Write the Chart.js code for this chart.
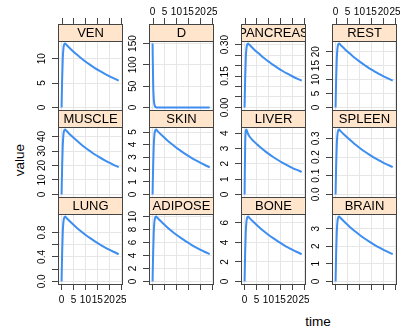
<!DOCTYPE html>
<html>
<head>
<meta charset="utf-8">
<script src="https://cdn.jsdelivr.net/npm/chart.js@4.4.1/dist/chart.umd.min.js"></script>
<style>
body{margin:0;background:#fff;width:409px;height:329px;overflow:hidden;position:relative;font-family:"Liberation Sans",Arial,sans-serif}
canvas{position:absolute}
.lab{position:absolute;width:60px;text-align:center;font-size:13.5px;line-height:16px;color:#000}
</style>
</head>
<body>
<div class="lab" style="left:-10px;top:152px;transform:rotate(-90deg)">value</div>
<div class="lab" style="left:288px;top:314px">time</div>
<script>
// time points (hours)
var time = [0, 0.25, 0.5, 0.75, 1, 1.5, 2, 4, 6, 8, 10, 12, 14, 16, 18, 20, 22, 24];

var VEN      = [0, 5.9, 10.0, 11.9, 12.8, 13.1, 12.85, 11.9, 11.0, 10.2, 9.43, 8.74, 8.08, 7.49, 6.93, 6.42, 5.95, 5.5];
var D        = [150, 55, 20, 7.5, 2.8, 0.4, 0.05, 0, 0, 0, 0, 0, 0, 0, 0, 0, 0, 0];
var PANCREAS = [0, 0.137, 0.232, 0.278, 0.297, 0.305, 0.299, 0.277, 0.257, 0.237, 0.220, 0.203, 0.188, 0.174, 0.161, 0.149, 0.138, 0.128];
var REST     = [0, 10.3, 17.4, 20.8, 22.3, 22.9, 22.5, 20.8, 19.3, 17.8, 16.5, 15.3, 14.1, 13.1, 12.1, 11.2, 10.4, 9.6];
var MUSCLE   = [0, 20, 34, 40.8, 43.7, 44.8, 44.0, 40.7, 37.7, 34.9, 32.3, 29.9, 27.6, 25.6, 23.7, 22.0, 20.3, 18.9];
var SKIN     = [0, 2.34, 3.95, 4.73, 5.07, 5.2, 5.1, 4.72, 4.37, 4.05, 3.74, 3.47, 3.21, 2.97, 2.75, 2.55, 2.36, 2.18];
var LIVER    = [0, 3.2, 4.15, 4.24, 4.15, 3.95, 3.8, 3.45, 3.17, 2.91, 2.67, 2.45, 2.25, 2.07, 1.9, 1.74, 1.6, 1.47];
var SPLEEN   = [0, 0.156, 0.264, 0.316, 0.338, 0.347, 0.340, 0.315, 0.292, 0.270, 0.250, 0.231, 0.214, 0.198, 0.184, 0.170, 0.158, 0.146];
var LUNG     = [0, 0.48, 0.81, 0.96, 1.03, 1.06, 1.04, 0.962, 0.891, 0.825, 0.763, 0.707, 0.654, 0.606, 0.561, 0.519, 0.481, 0.445];
var ADIPOSE  = [0, 4.5, 7.6, 9.1, 9.75, 10.0, 9.81, 9.08, 8.41, 7.78, 7.2, 6.67, 6.17, 5.72, 5.29, 4.9, 4.54, 4.2];
var BONE     = [0, 3.0, 5.05, 6.04, 6.47, 6.64, 6.51, 6.03, 5.58, 5.17, 4.78, 4.43, 4.10, 3.80, 3.51, 3.25, 3.01, 2.79];
var BRAIN    = [0, 1.66, 2.80, 3.36, 3.60, 3.69, 3.62, 3.35, 3.10, 2.87, 2.66, 2.46, 2.28, 2.11, 1.95, 1.81, 1.68, 1.55];

// panel order, row by row from the top
var panelNames = ['VEN', 'D', 'PANCREAS', 'REST', 'MUSCLE', 'SKIN', 'LIVER', 'SPLEEN', 'LUNG', 'ADIPOSE', 'BONE', 'BRAIN'];
var panelData = [VEN, D, PANCREAS, REST, MUSCLE, SKIN, LIVER, SPLEEN, LUNG, ADIPOSE, BONE, BRAIN];

var xTicks = [0, 5, 10, 15, 20, 25];
var xLabels = ['0', '5', '10', '15', '20', '25'];

var yTicks = [
  [0, 5, 10], [0, 50, 100, 150], [0, 0.05, 0.1, 0.15, 0.2, 0.25, 0.3], [0, 5, 10, 15, 20],
  [0, 10, 20, 30, 40], [0, 1, 2, 3, 4, 5], [0, 1, 2, 3, 4], [0, 0.1, 0.2, 0.3],
  [0, 0.2, 0.4, 0.6, 0.8], [0, 2, 4, 6, 8, 10], [0, 2, 4, 6], [0, 1, 2, 3]
];
var yLabels = [
  ['0', '5', '10'], ['0', '50', '100', '150'], ['0.00', '', '', '0.15', '', '', '0.30'], ['0', '5', '10', '15', '20'],
  ['0', '10', '20', '30', '40'], ['0', '1', '2', '3', '4', '5'], ['0', '1', '2', '3', '4'], ['0.0', '0.1', '0.2', '0.3'],
  ['0.0', '', '0.4', '', '0.8'], ['0', '2', '4', '6', '8', '10'], ['0', '2', '4', '6'], ['0', '1', '2', '3']
];

// layout
var colLeft = [58, 149, 241, 332];
var rowTop = [24, 110, 197];
var panelW = 65, stripH = 17;
var panelH = [69, 70, 70];
var AXW = 32, XH = 26;

var latticePlugin = {
  id: 'lattice',
  afterDraw: function(chart) {
    var o = chart.options.plugins.lattice;
    var ctx = chart.ctx, a = chart.chartArea;
    var xs = chart.scales.x, ys = chart.scales.y;
    ctx.save();
    ctx.strokeStyle = '#444';
    ctx.lineWidth = 1;
    // panel border
    ctx.strokeRect(a.left + 0.5, a.top + 0.5, a.right - a.left - 1, a.bottom - a.top);
    // strip
    var st = a.top - stripH;
    ctx.fillStyle = '#ffe5cc';
    ctx.fillRect(a.left, st, a.right - a.left, stripH);
    ctx.strokeRect(a.left + 0.5, st + 0.5, a.right - a.left - 1, stripH);
    ctx.save();
    ctx.beginPath();
    ctx.rect(a.left + 1, st + 1, a.right - a.left - 2, stripH - 1);
    ctx.clip();
    ctx.fillStyle = '#000';
    ctx.font = '13px "Liberation Sans", Arial, sans-serif';
    ctx.textAlign = 'center';
    ctx.textBaseline = 'middle';
    ctx.fillText(o.name, (a.left + a.right) / 2, st + stripH / 2 + 1);
    ctx.restore();

    ctx.fillStyle = '#000';
    ctx.font = '10px "Liberation Sans", Arial, sans-serif';
    ctx.textAlign = 'center';
    ctx.textBaseline = 'middle';
    // y tick labels, rotated
    o.yTicks.forEach(function(v, i) {
      var t = o.yLabels[i];
      if (!t) return;
      var y = ys.getPixelForValue(v);
      ctx.save();
      ctx.translate(a.left - 16, y);
      ctx.rotate(-Math.PI / 2);
      ctx.fillText(t, 0, 0);
      ctx.restore();
    });
    // top ticks and labels
    if (o.row === 0) {
      xTicks.forEach(function(v, i) {
        var x = Math.round(xs.getPixelForValue(v)) + 0.5;
        ctx.beginPath();
        ctx.moveTo(x, st - 6);
        ctx.lineTo(x, st);
        ctx.stroke();
        if (o.col % 2 === 1) ctx.fillText(xLabels[i], xs.getPixelForValue(v), st - 12);
      });
    }
    // bottom labels
    if (o.row === 2 && o.col % 2 === 0) {
      xTicks.forEach(function(v, i) {
        ctx.fillText(xLabels[i], xs.getPixelForValue(v), a.bottom + 16);
      });
    }
    ctx.restore();
  }
};

panelNames.forEach(function(name, k) {
  var row = Math.floor(k / 4), col = k % 4;
  var vals = panelData[k];
  var lo = Math.min.apply(null, vals), hi = Math.max.apply(null, vals);
  var pad = (hi - lo) * 0.04;
  var cv = document.createElement('canvas');
  var w = AXW + panelW + 3, h = 24 + stripH + panelH[row] + XH;
  cv.width = w; cv.height = h;
  cv.style.left = (colLeft[col] - AXW) + 'px';
  cv.style.top = (rowTop[row] - 24) + 'px';
  document.body.appendChild(cv);

  var ticksY = yTicks[k];
  new Chart(cv, {
    type: 'line',
    data: {
      datasets: [{
        data: vals.map(function(v, i) { return {x: time[i], y: v}; }),
        borderColor: '#3d8ef0',
        borderWidth: 2,
        pointRadius: 0,
        cubicInterpolationMode: 'monotone',
        fill: false
      }]
    },
    options: {
      responsive: false,
      animation: false,
      devicePixelRatio: 1,
      layout: {padding: {top: 24 + stripH, right: 3, left: 0, bottom: 0}, autoPadding: false},
      plugins: {
        legend: {display: false},
        tooltip: {enabled: false},
        lattice: {name: name, row: row, col: col, yTicks: ticksY, yLabels: yLabels[k]}
      },
      scales: {
        x: {
          type: 'linear', min: -1.5, max: 25.8,
          afterBuildTicks: function(s) { s.ticks = xTicks.map(function(v) { return {value: v}; }); },
          afterFit: function(s) { s.height = XH; },
          ticks: {display: false},
          grid: {color: '#e6e6e6', drawTicks: row === 2, tickLength: 6, tickColor: '#444'},
          border: {display: false}
        },
        y: {
          type: 'linear', min: lo - pad, max: hi + pad,
          afterBuildTicks: function(s) { s.ticks = ticksY.map(function(v) { return {value: v}; }); },
          afterFit: function(s) { s.width = AXW; },
          ticks: {display: false},
          grid: {color: '#e6e6e6', drawTicks: true, tickLength: 6, tickColor: '#444'},
          border: {display: false}
        }
      }
    },
    plugins: [latticePlugin]
  });
});
</script>
</body>
</html>
